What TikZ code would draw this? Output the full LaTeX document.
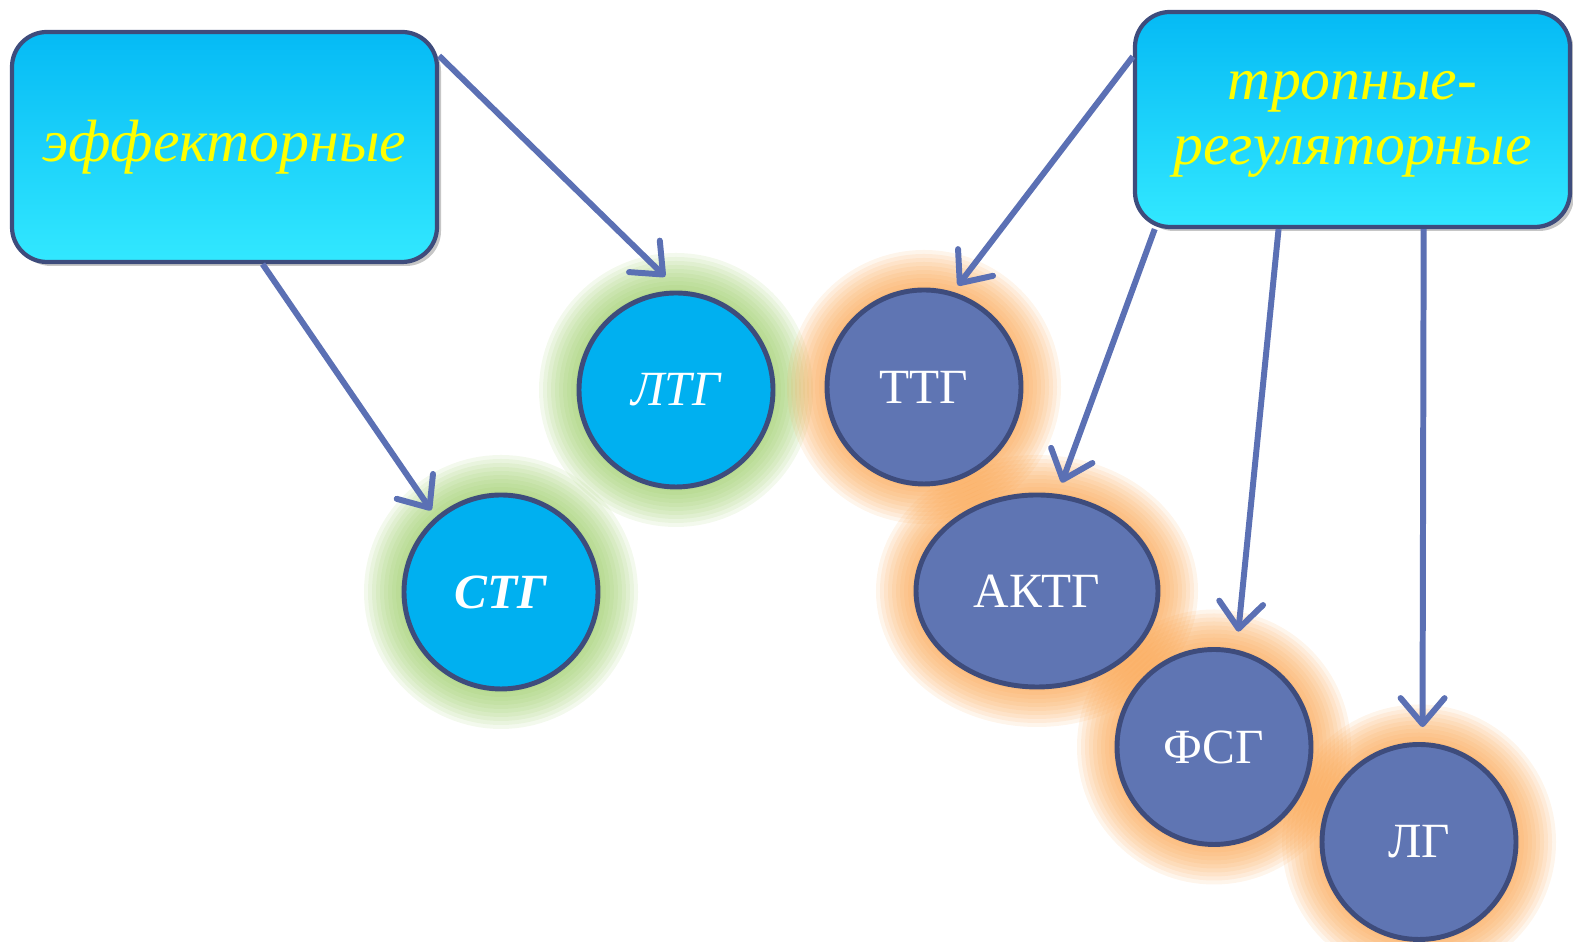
\documentclass[tikz,border=0pt]{standalone}
\usepackage{fontspec}
\setmainfont{Liberation Serif}
\usetikzlibrary{arrows.meta, backgrounds, shadows, shapes.geometric}
\definecolor{boxtop}{RGB}{5,186,245}
\definecolor{boxmid}{RGB}{5,192,250}
\definecolor{boxbot}{RGB}{50,232,255}
\definecolor{rimblue}{RGB}{62,76,124}
\definecolor{effblue}{RGB}{0,176,240}
\definecolor{tropblue}{RGB}{95,117,179}
\definecolor{linkblue}{RGB}{91,112,180}
\definecolor{hyellow}{RGB}{255,255,0}
\definecolor{glowg}{RGB}{150,202,95}
\definecolor{glowo}{RGB}{250,160,70}

\begin{document}
\begin{tikzpicture}[font=\fontsize{14}{16}\selectfont,
  groupbox/.style={rectangle, rounded corners=3.5mm, draw=rimblue, line width=1.2pt,
    top color=boxtop, middle color=boxmid, bottom color=boxbot, text=hyellow,
    align=center, inner sep=0pt, font=\fontsize{17}{18.5}\selectfont\itshape,
    drop shadow={shadow xshift=.4mm, shadow yshift=-.4mm, opacity=.45}},
  effn/.style={circle, draw=rimblue, fill=effblue, line width=1.4pt,
    minimum size=19.4mm, inner sep=0pt, text=white},
  tropn/.style={circle, draw=rimblue, fill=tropblue, line width=1.4pt,
    minimum size=19.4mm, inner sep=0pt, text=white},
  link/.style={draw=linkblue, line width=1.7pt,
    -{Straight Barb[length=2.6mm, width=4.4mm, round]}}
]
  \useasboundingbox (0,0) rectangle (15.73,9.42);
  \node[groupbox, minimum width=42.5mm, minimum height=23mm] (eff) at (2.245,7.95) {эффекторные};
  \node[groupbox, minimum width=43.5mm, minimum height=21.5mm] (trop) at (13.525,8.225)
    {\raisebox{-.8mm}{\begin{tabular}{@{}c@{}}тропные-\\регуляторные\end{tabular}}};
  \node[effn]  (stg) at (5.01,3.50)  {\bfseries\itshape СТГ};
  \node[effn]  (ltg) at (6.76,5.52)  {\itshape ЛТГ};
  \node[tropn] (ttg) at (9.24,5.55)  {ТТГ};
  \node[tropn, ellipse, minimum width=24.2mm, minimum height=19.2mm] (aktg) at (10.37,3.51) {АКТГ};
  \node[tropn, ellipse, minimum width=19.4mm, minimum height=19.5mm] (fsg) at (12.14,1.95) {ФСГ};
  \node[tropn, ellipse, minimum width=19.4mm, minimum height=19.5mm] (lg) at (14.19,1.00) {ЛГ};
  \begin{scope}[on background layer]
    \foreach \n/\rx/\ry/\c in {stg/.97/.97/glowg, ltg/.97/.97/glowg, ttg/.97/.97/glowo,
        aktg/1.21/.96/glowo, fsg/.97/.975/glowo, lg/.97/.975/glowo}
      \foreach \k in {1,...,10}
        \draw[\c, opacity=.11, line width=\k*.8mm] (\n.center) ellipse ({\rx} and {\ry});
  \end{scope}
  \draw[link, shorten >=.8mm] (eff.-72) -- (stg.131);
  \draw[link, shorten >=2mm] (eff.23) -- (ltg.88);
  \draw[link, shorten >=.8mm] (trop.164) -- (ttg.73);
  \draw[link, shorten >=1.2mm] (trop.-151) -- (aktg.78);
  \draw[link, shorten >=1.8mm] (trop.-124) -- (fsg.77);
  \draw[link, shorten >=1.5mm] (trop.-57) -- (lg.88.5);
\end{tikzpicture}
\end{document}
